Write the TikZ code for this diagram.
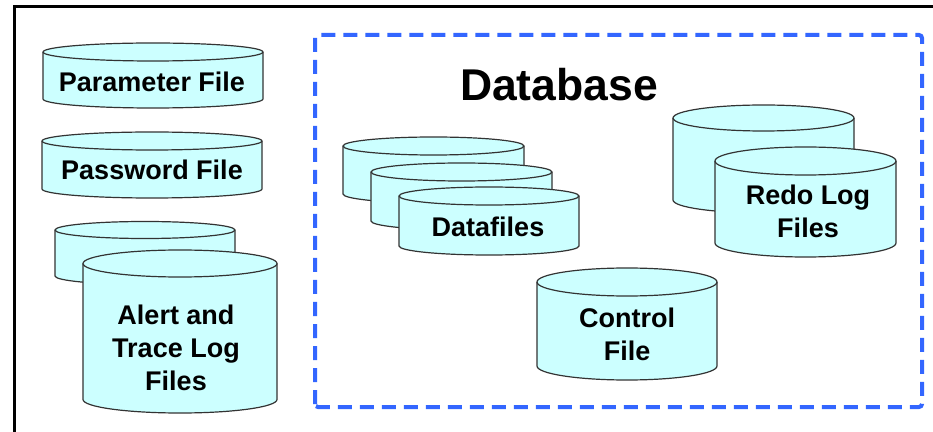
\documentclass[tikz,border=0pt]{standalone}
\usepackage{fontspec}
\setmainfont{Liberation Sans}
\definecolor{diskfill}{RGB}{204,255,255}
\definecolor{dbblue}{RGB}{51,102,255}
\tikzset{
  disk/.style={draw=black!80, fill=diskfill, line width=1.2pt},
  lbl/.style={font=\bfseries\fontsize{27}{33}\selectfont, align=center, inner sep=0pt},
  dbbox/.style={draw=dbblue, line width=4pt, dash pattern=on 14pt off 8pt, rounded corners=3pt},
}
% cylinder: centre x, centre y of top ellipse, x radius, y radius, body height
\newcommand{\drawdisk}[5]{%
  \filldraw[disk] (#1-#3,#2) -- ++(0,-#5)
    arc[start angle=180, end angle=360, x radius=#3pt, y radius=#4pt] -- ++(0,#5)
    arc[start angle=0, end angle=180, x radius=#3pt, y radius=#4pt] -- cycle;
  \draw[disk, fill=none] (#1-#3,#2) arc[start angle=180, end angle=360, x radius=#3pt, y radius=#4pt];
}
\begin{document}
\begin{tikzpicture}[x=1pt, y=1pt]
    \useasboundingbox (0,0) rectangle (933,431);
    \draw[line width=3pt] (14,-10) -- (14,424) -- (945,424);
    \draw[dbbox] (315,24) rectangle (922,396);
    \node[font=\bfseries\fontsize{44.5}{50}\selectfont, inner sep=0pt] (dbtitle) at (559,346) {Database};
    % left files
    \begin{scope}
      \drawdisk{153}{379}{110}{9}{47}
      \node[lbl] (param) at (152,349) {Parameter File};
      \drawdisk{152}{290}{110}{9}{48}
      \node[lbl] (passwd) at (152,261) {Password File};
      \drawdisk{145}{201}{90}{8.5}{46}
      \drawdisk{180}{167.5}{97}{13.5}{136}
      \node[lbl] (alert) at (176,83) {Alert and\\Trace Log\\Files};
    \end{scope}
    % database files
    \begin{scope}
      \drawdisk{433.5}{285}{90.5}{9}{48}
      \drawdisk{461.5}{259}{90.5}{9}{49}
      \drawdisk{489}{235}{90}{9}{50}
      \node[lbl] (data) at (488,204) {Datafiles};
      \drawdisk{627}{149}{90}{14}{84}
      \node[lbl] (ctrl) at (627,97) {Control\\File};
      \drawdisk{763.5}{313}{90.5}{13}{82}
      \drawdisk{805.5}{270}{90.5}{14}{82}
      \node[lbl] (redo) at (808,220) {Redo Log\\Files};
    \end{scope}
\end{tikzpicture}
\end{document}
